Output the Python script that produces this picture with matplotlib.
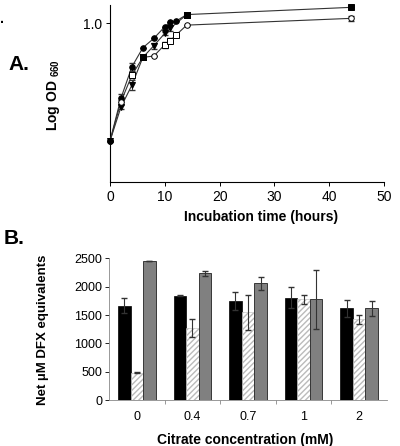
import matplotlib.pyplot as plt
import numpy as np

plt.rcParams['font.family'] = ['Liberation Sans', 'DejaVu Sans']
plt.rcParams['mathtext.fontset'] = 'custom'
plt.rcParams['mathtext.bf'] = 'Liberation Sans:bold'
plt.rcParams['mathtext.rm'] = 'Liberation Sans'

# ------ panel A: growth curves
t_fc = [0, 2, 4, 6, 8, 10, 11, 12, 14, 44]
od_fc = [0.181, 0.337, 0.531, 0.699, 0.801, 0.948, 1.015, 1.025, 1.13, 1.255]
err_fc = [0, 0.02, 0.03, 0, 0, 0, 0, 0, 0, 0]
mk_fc = ['o', 'o', 'o', 'o', 'o', 'o', 'o', 'o', 's', 's']

t_tri = [0, 2, 4, 6, 8, 10, 11, 14]
od_tri = [0.181, 0.296, 0.407, 0.608, 0.72, 0.861, 0.926, 1.13]
err_tri = [0, 0.01, 0.03, 0, 0.03, 0.02, 0.03, 0]
mk_tri = ['v', 'v', 'v', 's', 'v', 'v', 'v', 's']

t_open = [0, 2, 4, 6, 8, 10, 11, 12, 14, 44]
od_open = [0.181, 0.32, 0.47, 0.608, 0.62, 0.73, 0.774, 0.837, 0.97, 1.07]
err_open = [0, 0.01, 0.02, 0, 0, 0.03, 0.03, 0.02, 0, 0.045]
mk_open = ['o', 'o', 's', 's', 'o', 's', 's', 's', 'o', 'o']
fill_open = ['k', 'w', 'w', 'k', 'w', 'w', 'w', 'w', 'w', 'w']

# ------ panel B: bars
citrate = ['0', '0.4', '0.7', '1', '2']
black_v = [1665, 1841, 1747, 1806, 1618]
black_e = [130, 8, 150, 180, 145]
hatch_v = [482, 1265, 1547, 1776, 1424]
hatch_e = [8, 160, 310, 85, 75]
gray_v = [2458, 2235, 2059, 1776, 1618]
gray_e = [0, 40, 120, 520, 130]

fig = plt.figure(figsize=(4, 4.46), dpi=100)

ax = fig.add_axes([0.275, 0.592, 0.685, 0.397])
series = [
    (t_fc, od_fc, err_fc, mk_fc, ['k'] * len(t_fc), 1),
    (t_tri, od_tri, err_tri, mk_tri, ['k'] * len(t_tri), 2),
    (t_open, od_open, err_open, mk_open, fill_open, 3),
]
for t, od, err, mk, fc, z in series:
    ax.errorbar(t, od, yerr=err, color='#333333', lw=0.8, elinewidth=0.7,
                capsize=2.5, fmt='none', zorder=z)
    ax.plot(t, od, color='#333333', lw=0.8, zorder=z)
    for ti, oi, mi, ci in zip(t, od, mk, fc):
        ax.plot(ti, oi, marker=mi, ms=4, mfc=ci, mec='k', mew=0.7,
                zorder=z + 5, clip_on=False)

ax.set_yscale('log')
ax.set_ylim(0.1, 1.3)
ax.set_xlim(0, 50)
ax.set_yticks([1.0])
ax.set_yticklabels(['1.0'])
ax.yaxis.set_minor_locator(plt.NullLocator())
ax.set_xticks([0, 10, 20, 30, 40, 50])
ax.tick_params(labelsize=10, length=3, width=0.7, pad=3)
for s in ['top', 'right']:
    ax.spines[s].set_visible(False)
for s in ['left', 'bottom']:
    ax.spines[s].set_linewidth(0.8)

fig.text(0.652, 0.513, 'Incubation time (hours)', ha='center', va='center',
         fontsize=10, fontweight='bold')
fig.text(0.1325, 0.787, r'Log OD $_{\mathbf{660}}$', ha='center', va='center',
         rotation=90, fontsize=10, fontweight='bold')
fig.text(0.02, 0.856, 'A.', ha='left', va='center', fontsize=15, fontweight='bold')
fig.text(0.0, 0.957, '.', ha='left', va='center', fontsize=10, fontweight='bold')

# bar chart
bx = fig.add_axes([0.2725, 0.1031, 0.695, 0.3177])
x = np.arange(len(citrate))
w = 0.225
bx.bar(x - w, black_v, w, color='black', edgecolor='black', lw=0.5, zorder=2)
bx.bar(x, hatch_v, w, color='white', edgecolor='#bbbbbb', hatch='//////', lw=0.4, zorder=2)
bx.bar(x + w, gray_v, w, color='#808080', edgecolor='#222222', lw=0.6, zorder=2)
bx.errorbar(x - w, black_v, yerr=black_e, fmt='none', ecolor='#333333',
            elinewidth=0.8, capsize=2.5, zorder=3)
bx.errorbar(x, hatch_v, yerr=hatch_e, fmt='none', ecolor='#333333',
            elinewidth=0.8, capsize=2.5, zorder=3)
bx.errorbar(x + w, gray_v, yerr=gray_e, fmt='none', ecolor='#333333',
            elinewidth=0.8, capsize=2.5, zorder=3)

bx.set_xlim(-0.5, len(citrate) - 0.5)
bx.set_ylim(0, 2500)
bx.set_yticks([0, 500, 1000, 1500, 2000, 2500])
bx.set_xticks(x)
bx.set_xticklabels(citrate)
bx.set_xticks(np.arange(len(citrate) - 1) + 0.5, minor=True)
bx.tick_params(axis='x', which='major', length=0, labelsize=9, pad=8)
bx.tick_params(axis='x', which='minor', length=3, width=0.6, colors='#888888')
bx.tick_params(axis='y', labelsize=9, length=3, width=0.6, pad=2)
for s in ['top', 'right']:
    bx.spines[s].set_visible(False)
bx.spines['left'].set_linewidth(0.6)
bx.spines['left'].set_color('#888888')
bx.spines['bottom'].set_linewidth(0.6)
bx.spines['bottom'].set_color('#888888')

fig.text(0.6125, 0.0135, 'Citrate concentration (mM)', ha='center', va='center',
         fontsize=10, fontweight='bold')
fig.text(0.1075, 0.26, 'Net \u00b5M DFX equivalents', ha='center', va='center',
         rotation=90, fontsize=9.5, fontweight='bold')
fig.text(0.01, 0.466, 'B.', ha='left', va='center', fontsize=15, fontweight='bold')

plt.savefig('out.png', dpi=100)
